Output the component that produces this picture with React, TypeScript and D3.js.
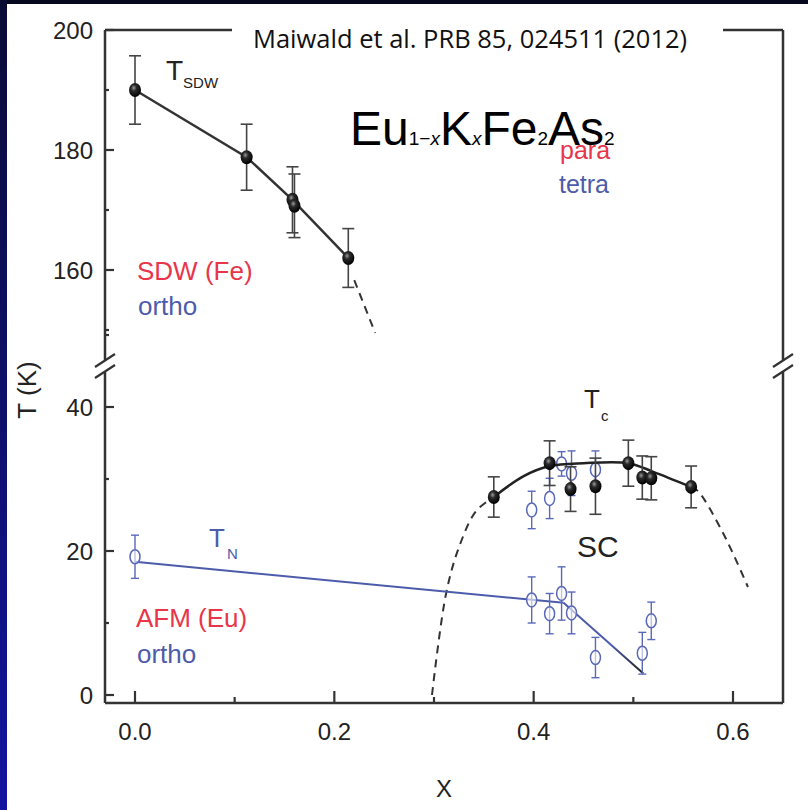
import React from "react";
import * as d3 from "d3";

// ---- data ----
const sdwX = [0, 0.112, 0.158, 0.16, 0.214];
const sdwT = [190, 178.8, 171.7, 170.7, 162];
const sdwErr = [5.7, 5.5, 5.5, 5.3, 4.9];
const sdwDashX = [0.22, 0.241];
const sdwDashT = [158.3, 149.5];

const tcX = [0.36, 0.416, 0.437, 0.462, 0.495, 0.509, 0.518, 0.558];
const tcT = [27.5, 32.2, 28.6, 29.0, 32.2, 30.2, 30.1, 28.9];
const tcErr = [2.8, 3.1, 3.1, 3.9, 3.2, 3.0, 3.0, 2.9];

const tcBlueX = [0.398, 0.416, 0.428, 0.438, 0.462];
const tcBlueT = [25.7, 27.3, 32.1, 30.8, 31.3];
const tcBlueErr = [2.6, 2.8, 1.7, 3.1, 2.6];

const tnX = [0, 0.398, 0.416, 0.428, 0.438, 0.462, 0.509, 0.518];
const tnT = [19.2, 13.2, 11.3, 14.1, 11.4, 5.2, 5.8, 10.3];
const tnErr = [3.0, 3.2, 2.8, 3.7, 2.9, 2.8, 2.9, 2.6];

const tnLineX = [0, 0.43, 0.51];
const tnLineT = [18.5, 12.8, 3.0];

const tcFitX = [0.36, 0.39, 0.416, 0.45, 0.495, 0.52, 0.558];
const tcFitT = [27.5, 30.4, 31.8, 32.2, 32.2, 31.0, 28.9];

const domeLeftX = [0.298, 0.312, 0.325, 0.342, 0.36];
const domeLeftT = [0, 14, 20.5, 25.5, 27.5];
const domeRightX = [0.558, 0.565, 0.59, 0.615];
const domeRightT = [28.9, 28.3, 22.5, 15];

const xTicks = [0, 0.1, 0.2, 0.3, 0.4, 0.5, 0.6];
const xTickLabels = ["0.0", "", "0.2", "", "0.4", "", "0.6"];
const yLowTicks = [0, 10, 20, 30, 40, 50];
const yLowLabels = ["0", "", "20", "", "40", ""];
const yHighTicks = [150, 160, 170, 180, 190, 200];
const yHighLabels = ["", "160", "", "180", "", "200"];

// ---- scales ----
const xs = d3.scaleLinear().domain([0, 0.6]).range([135, 733]);
const yLow = d3.scaleLinear().domain([0, 40]).range([695, 407]);
const yHigh = d3.scaleLinear().domain([160, 200]).range([270, 30]);

const AX_L = 105;
const AX_R = 783;
const AX_T = 30;
const AX_B = 703;
const BREAK_Y = 366;

const RED = "#e8354a";
const BLUE = "#4d5caa";
const DBLUE = "#5a68b8";
const AXC = "#333";
const FONT = "'Liberation Sans', Arial, sans-serif";

function linePath(xArr: number[], tArr: number[], y: d3.ScaleLinear<number, number>, curve?: d3.CurveFactory) {
  const pts: [number, number][] = xArr.map((x, i) => [x, tArr[i]]);
  const g = d3.line<[number, number]>().x((d) => xs(d[0])).y((d) => y(d[1]));
  if (curve) g.curve(curve);
  return g(pts) || "";
}

function ErrBar({ cx, yTop, yBot, cap, color, w }: { cx: number; yTop: number; yBot: number; cap: number; color: string; w: number }) {
  return (
    <g stroke={color} strokeWidth={w} fill="none">
      <line x1={cx} x2={cx} y1={yTop} y2={yBot} />
      <line x1={cx - cap} x2={cx + cap} y1={yTop} y2={yTop} />
      <line x1={cx - cap} x2={cx + cap} y1={yBot} y2={yBot} />
    </g>
  );
}

function BreakMark({ x, y }: { x: number; y: number }) {
  return (
    <g>
      <rect x={x - 4} y={y - 6} width={8} height={12} fill="white" />
      <line x1={x - 10} y1={y + 1} x2={x + 10} y2={y - 12} stroke={AXC} strokeWidth={2.2} />
      <line x1={x - 10} y1={y + 12} x2={x + 10} y2={y - 1} stroke={AXC} strokeWidth={2.2} />
    </g>
  );
}

export default function App() {
  const kneeX = xs(tnLineX[1]);
  const endX = xs(tnLineX[2]);
  return (
    <svg width={808} height={810} style={{ position: "absolute", left: 0, top: 0 }}>
      <defs>
        <linearGradient id="leftStrip" x1="0" y1="0" x2="0" y2="1">
          <stop offset="0" stopColor="#0a0b35" />
          <stop offset="1" stopColor="#1214a0" />
        </linearGradient>
        <radialGradient id="ball" cx="0.4" cy="0.35" r="0.65">
          <stop offset="0" stopColor="#9a9a9a" />
          <stop offset="0.35" stopColor="#2a2a2a" />
          <stop offset="1" stopColor="#000" />
        </radialGradient>
        <linearGradient id="tnFade" gradientUnits="userSpaceOnUse" x1={kneeX} y1={0} x2={endX} y2={0}>
          <stop offset="0" stopColor={BLUE} />
          <stop offset="0.6" stopColor={BLUE} />
          <stop offset="1" stopColor="#222" />
        </linearGradient>
      </defs>
      <rect x={0} y={0} width={808} height={810} fill="white" />
      <rect x={0} y={0} width={808} height={4} fill="#060820" />
      <rect x={0} y={0} width={7} height={810} fill="url(#leftStrip)" />

      {/* axes frame */}
      <g stroke={AXC} strokeWidth={2.5} fill="none">
        <line x1={AX_L} x2={AX_R} y1={AX_T} y2={AX_T} />
        <line x1={AX_L} x2={AX_R} y1={AX_B} y2={AX_B} />
        <line x1={AX_L} x2={AX_L} y1={AX_T} y2={AX_B} />
        <line x1={AX_R} x2={AX_R} y1={AX_T} y2={AX_B} />
      </g>
      <BreakMark x={AX_L} y={BREAK_Y} />
      <BreakMark x={AX_R} y={BREAK_Y} />

      {/* x ticks */}
      <g stroke={AXC} strokeWidth={2.2}>
        {xTicks.map((t, i) => (
          <line key={i} x1={xs(t)} x2={xs(t)} y1={AX_B} y2={AX_B - (xTickLabels[i] ? 12 : 6)} />
        ))}
      </g>
      <g fontFamily={FONT} fontSize={24} fill="#222" textAnchor="middle">
        {xTicks.map((t, i) =>
          xTickLabels[i] ? (
            <text key={i} x={xs(t)} y={740}>
              {xTickLabels[i]}
            </text>
          ) : null
        )}
      </g>

      {/* y ticks */}
      <g stroke={AXC} strokeWidth={2.2}>
        {yLowTicks.map((t, i) => (
          <line key={"l" + i} x1={AX_L} x2={AX_L + (yLowLabels[i] ? 9 : 4)} y1={yLow(t)} y2={yLow(t)} />
        ))}
        {yHighTicks.map((t, i) => (
          <line key={"h" + i} x1={AX_L} x2={AX_L + (yHighLabels[i] ? 9 : 4)} y1={yHigh(t)} y2={yHigh(t)} />
        ))}
      </g>
      <g fontFamily={FONT} fontSize={24} fill="#222" textAnchor="end">
        {yLowTicks.map((t, i) =>
          yLowLabels[i] ? (
            <text key={"l" + i} x={93} y={yLow(t) + 9}>
              {yLowLabels[i]}
            </text>
          ) : null
        )}
        {yHighTicks.map((t, i) =>
          yHighLabels[i] ? (
            <text key={"h" + i} x={93} y={yHigh(t) + 9}>
              {yHighLabels[i]}
            </text>
          ) : null
        )}
      </g>

      {/* axis titles */}
      <text x={444} y={797} fontFamily={FONT} fontSize={24} fill="#222" textAnchor="middle">
        X
      </text>
      <text transform="translate(36,390) rotate(-90)" fontFamily={FONT} fontSize={26} fill="#222" textAnchor="middle">
        T (K)
      </text>

      {/* citation box over the top axis */}
      <rect x={232} y={12} width={491} height={40} fill="white" />
      <text x={253} y={48} fontFamily="'Open Sans', 'Noto Sans', sans-serif" fontSize={25.5} fill="#111">
        Maiwald et al. PRB 85, 024511 (2012)
      </text>

      {/* SDW branch */}
      <path d={linePath(sdwX.filter((_, i) => i !== 3), sdwT.filter((_, i) => i !== 3), yHigh)} stroke="#333" strokeWidth={2.5} fill="none" />
      <path d={linePath(sdwDashX, sdwDashT, yHigh)} stroke="#333" strokeWidth={2} strokeDasharray="8,6" fill="none" />
      {sdwX.map((x, i) => (
        <ErrBar key={"se" + i} cx={xs(x)} yTop={yHigh(sdwT[i] + sdwErr[i])} yBot={yHigh(sdwT[i] - sdwErr[i])} cap={6} color="#444" w={1.6} />
      ))}
      {sdwX.map((x, i) => (
        <ellipse key={"sp" + i} cx={xs(x)} cy={yHigh(sdwT[i])} rx={6} ry={7} fill="url(#ball)" />
      ))}

      {/* SC dome */}
      <path d={linePath(domeLeftX, domeLeftT, yLow, d3.curveCatmullRom)} stroke="#333" strokeWidth={2} strokeDasharray="8,6" fill="none" />
      <path d={linePath(domeRightX, domeRightT, yLow, d3.curveCatmullRom)} stroke="#333" strokeWidth={2} strokeDasharray="8,6" fill="none" />

      {/* TN line */}
      <path d={linePath(tnLineX.slice(0, 2), tnLineT.slice(0, 2), yLow)} stroke={BLUE} strokeWidth={2} fill="none" />
      <path d={linePath(tnLineX.slice(1), tnLineT.slice(1), yLow)} stroke="url(#tnFade)" strokeWidth={2} fill="none" />

      {/* blue open points (Tc from other probe) */}
      {tcBlueX.map((x, i) => (
        <g key={"tb" + i}>
          <ErrBar cx={xs(x)} yTop={yLow(tcBlueT[i] + tcBlueErr[i])} yBot={yLow(tcBlueT[i] - tcBlueErr[i])} cap={4} color={DBLUE} w={1.4} />
          <ellipse cx={xs(x)} cy={yLow(tcBlueT[i])} rx={5} ry={7} fill="white" stroke={DBLUE} strokeWidth={1.5} />
        </g>
      ))}

      {/* Tc fit and black points */}
      <path d={linePath(tcFitX, tcFitT, yLow, d3.curveCatmullRom)} stroke="#222" strokeWidth={2.5} fill="none" />
      {tcX.map((x, i) => (
        <ErrBar key={"te" + i} cx={xs(x)} yTop={yLow(tcT[i] + tcErr[i])} yBot={yLow(tcT[i] - tcErr[i])} cap={6} color="#444" w={1.6} />
      ))}
      {tcX.map((x, i) => (
        <ellipse key={"tp" + i} cx={xs(x)} cy={yLow(tcT[i])} rx={6} ry={7} fill="url(#ball)" />
      ))}

      {/* TN points */}
      {tnX.map((x, i) => (
        <g key={"tn" + i}>
          <ErrBar cx={xs(x)} yTop={yLow(tnT[i] + tnErr[i])} yBot={yLow(tnT[i] - tnErr[i])} cap={4} color={DBLUE} w={1.4} />
          <ellipse cx={xs(x)} cy={yLow(tnT[i])} rx={5} ry={7} fill="white" fillOpacity={0.6} stroke={DBLUE} strokeWidth={1.5} />
        </g>
      ))}

      {/* labels */}
      <g fontFamily={FONT}>
        <text x={166} y={80} fontSize={28} fill="#222">
          T<tspan fontSize={15} dy={8}>SDW</tspan>
        </text>
        <text x={209} y={547} fontSize={26} fill={BLUE}>
          T<tspan fontSize={15} dy={12} dx={2}>N</tspan>
        </text>
        <text x={584} y={408} fontSize={26} fill="#222">
          T<tspan fontSize={15} dy={13} dx={1}>c</tspan>
        </text>
        <text x={577} y={557} fontSize={30} fill="#222">
          SC
        </text>
        <text x={137} y={280} fontSize={26} fill={RED}>
          SDW (Fe)
        </text>
        <text x={138} y={315} fontSize={26} fill={BLUE}>
          ortho
        </text>
        <text x={136} y={627} fontSize={26} fill={RED}>
          AFM (Eu)
        </text>
        <text x={137} y={663} fontSize={26} fill={BLUE}>
          ortho
        </text>
        <text x={560} y={159} fontSize={25} fill={RED}>
          para
        </text>
        <text x={559} y={193} fontSize={25} fill={BLUE}>
          tetra
        </text>
        <text x={350} y={145} fontSize={48} fill="#000">
          Eu<tspan fontSize={19}>1−</tspan>
          <tspan fontSize={19} fontStyle="italic">x</tspan>
          <tspan>K</tspan>
          <tspan fontSize={19} fontStyle="italic">x</tspan>
          <tspan>Fe</tspan>
          <tspan fontSize={19}>2</tspan>
          <tspan>As</tspan>
          <tspan fontSize={19}>2</tspan>
        </text>
      </g>
    </svg>
  );
}
